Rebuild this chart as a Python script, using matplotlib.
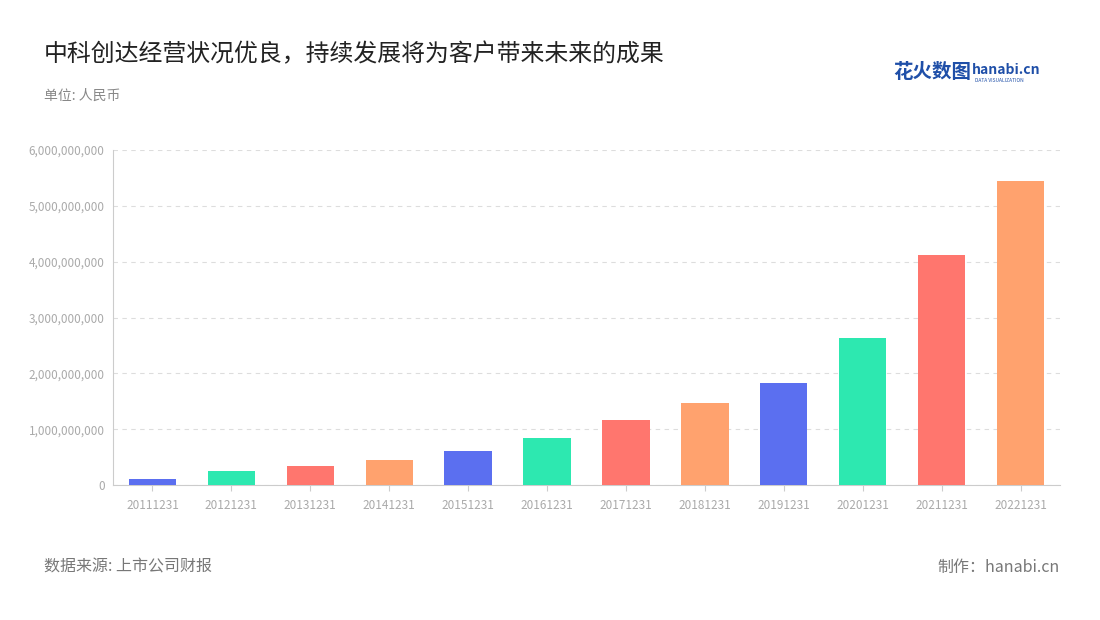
import matplotlib
matplotlib.use("Agg")
import matplotlib.pyplot as plt
from matplotlib.ticker import FuncFormatter

plt.rcParams['font.family'] = ['Noto Sans CJK SC']

categories = ["20111231","20121231","20131231","20141231","20151231","20161231",
              "20171231","20181231","20191231","20201231","20211231","20221231"]
values = [0.107e9,0.25e9,0.34e9,0.45e9,0.61e9,0.84e9,1.16e9,1.47e9,1.83e9,2.63e9,4.12e9,5.44e9]
palette = ["#5b6ff0","#2de8b0","#ff766e","#ffa26e"]

fig = plt.figure(figsize=(11,6.2), dpi=100)
ax = fig.add_axes([113/1100, 1-485/620, (1060-113)/1100, (485-150)/620])
x = range(len(categories))
ax.bar(x, values, width=0.6, color=[palette[i%4] for i in x], zorder=3)
ax.set_xlim(-0.5, len(categories)-0.5)
ax.set_ylim(0, 6e9)
ax.set_yticks([i*1e9 for i in range(7)])
ax.yaxis.set_major_formatter(FuncFormatter(lambda v,p: f"{int(v):,}"))
ax.set_xticks(list(x))
ax.set_xticklabels(categories)
ax.tick_params(axis='both', colors='#aaaaaa', labelsize=8.5, length=0, pad=6)
ax.tick_params(axis='x', length=4, color='#cccccc')
ax.grid(axis='y', linestyle=(0,(4,4)), color='#dddddd', zorder=0)
for s in ['top','right']:
    ax.spines[s].set_visible(False)
ax.spines['left'].set_color('#cccccc')
ax.spines['bottom'].set_color('#cccccc')

fig.text(44/1100, 1-55/620, "中科创达经营状况优良，持续发展将为客户带来未来的成果", fontsize=17.2, color='#222222', va='center')
fig.text(44/1100, 1-96/620, "单位: 人民币", fontsize=10, color='#888888', va='center')
fig.text(44/1100, 1-567/620, "数据来源: 上市公司财报", fontsize=11.5, color='#777777', va='center')
fig.text(1060/1100, 1-567/620, "制作：hanabi.cn", fontsize=11.5, color='#777777', va='center', ha='right')
fig.text(893/1100, 1-72/620, "花火数图", fontsize=14, color='#1f4fa8', va='center', fontweight='bold')
fig.text(972/1100, 1-70/620, "hanabi.cn", fontsize=10, color='#1f4fa8', va='center', fontweight='bold')
fig.text(975/1100, 1-80/620, "DATA VISUALIZATION", fontsize=3.5, color='#1f4fa8', va='center')
fig.savefig("out.png", dpi=100)
